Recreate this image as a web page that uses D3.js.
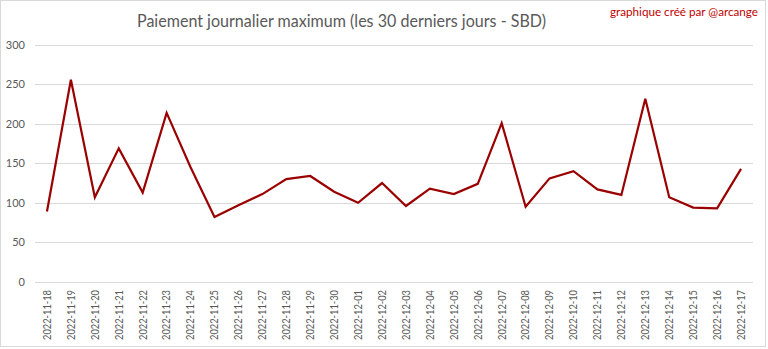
<!DOCTYPE html>
<html>
<head>
<meta charset="utf-8">
<script src="https://cdn.jsdelivr.net/npm/d3@7"></script>
<style>
  html, body { margin: 0; padding: 0; background: #fff; }
  svg { display: block; }
  text { font-family: Lato, "Open Sans", sans-serif; }
</style>
</head>
<body>
<svg id="chart" width="768" height="349"></svg>
<script>
// Daily maximum payout, last 30 days (SBD)
const dates = [
  "2022-11-18","2022-11-19","2022-11-20","2022-11-21","2022-11-22","2022-11-23",
  "2022-11-24","2022-11-25","2022-11-26","2022-11-27","2022-11-28","2022-11-29",
  "2022-11-30","2022-12-01","2022-12-02","2022-12-03","2022-12-04","2022-12-05",
  "2022-12-06","2022-12-07","2022-12-08","2022-12-09","2022-12-10","2022-12-11",
  "2022-12-12","2022-12-13","2022-12-14","2022-12-15","2022-12-16","2022-12-17"
];
const payouts = [
  89, 256, 107, 169, 113, 214,
  145, 82, 97, 111, 130, 134,
  114, 100, 125, 96, 118, 111,
  124, 201, 95, 131, 140, 117,
  110, 232, 107, 94, 93, 143
];
const yTicks = [0, 50, 100, 150, 200, 250, 300];

const titleText = "Paiement journalier maximum (les 30 derniers jours - SBD)";
const creditText = "graphique créé par @arcange";

const svg = d3.select("#chart");
const W = 768, H = 349;
const plot = { left: 35, right: 753, top: 45, bottom: 281.7 };

// outer frame
svg.append("rect")
  .attr("x", 0.5).attr("y", 0.5)
  .attr("width", 765).attr("height", 346)
  .attr("fill", "#fff").attr("stroke", "#d9d9d9");

const x = d3.scaleBand().domain(dates).range([plot.left, plot.right]).padding(0);
const y = d3.scaleLinear().domain([0, 300]).range([plot.bottom, plot.top]);

// horizontal gridlines
svg.append("g").selectAll("line").data(yTicks).join("line")
  .attr("x1", plot.left).attr("x2", plot.right)
  .attr("y1", d => Math.round(y(d)) + 0.5).attr("y2", d => Math.round(y(d)) + 0.5)
  .attr("stroke", "#d9d9d9").attr("stroke-width", 1);

// y axis labels
const yAxis = d3.axisLeft(y).tickValues(yTicks).tickSize(0).tickPadding(0);
const gy = svg.append("g").attr("transform", "translate(25,0)").call(yAxis);
gy.select(".domain").remove();
gy.selectAll("text")
  .attr("fill", "#595959")
  .style("font-size", "11px")
  .style("font-family", "Lato, 'Open Sans', sans-serif");

// x axis labels (rotated)
const xAxis = d3.axisBottom(x).tickSize(0).tickPadding(0);
const gx = svg.append("g").attr("transform", "translate(0,290)").call(xAxis);
gx.select(".domain").remove();
gx.selectAll("text")
  .attr("fill", "#595959")
  .style("font-size", "11px")
  .style("font-family", "Lato, 'Open Sans', sans-serif")
  .attr("text-anchor", "end")
  .attr("transform", "rotate(-90)")
  .attr("x", 0).attr("y", 0).attr("dy", "0.35em")
  .attr("textLength", 50).attr("lengthAdjust", "spacingAndGlyphs");

// payout line
const line = d3.line()
  .x((d, i) => x(dates[i]) + x.bandwidth() / 2)
  .y(d => y(d));
svg.append("path")
  .datum(payouts)
  .attr("d", line)
  .attr("fill", "none")
  .attr("stroke", "#9a0000")
  .attr("stroke-width", 2.2)
  .attr("stroke-linejoin", "miter");

// title
svg.append("text")
  .attr("x", 137).attr("y", 27)
  .attr("fill", "#595959")
  .style("font-size", "17px")
  .attr("textLength", 409).attr("lengthAdjust", "spacingAndGlyphs")
  .text(titleText);

// credit
svg.append("text")
  .attr("x", 610).attr("y", 16)
  .attr("fill", "#c00000")
  .style("font-size", "12px")
  .attr("textLength", 148).attr("lengthAdjust", "spacingAndGlyphs")
  .text(creditText);
</script>
</body>
</html>
